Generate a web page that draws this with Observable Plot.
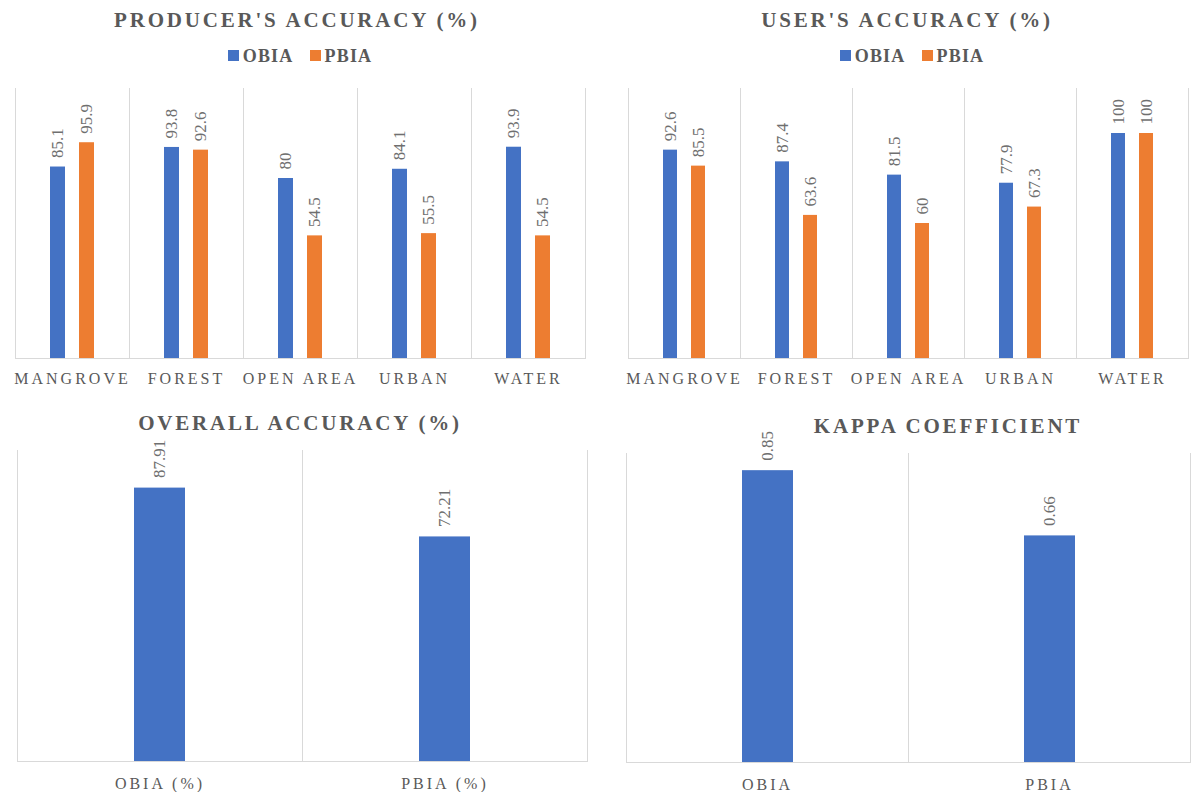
<!DOCTYPE html>
<html>
<head>
<meta charset="utf-8">
<script src="https://cdn.jsdelivr.net/npm/d3@7"></script>
<script src="https://cdn.jsdelivr.net/npm/@observablehq/plot@0.6"></script>
<style>
  html, body { margin: 0; padding: 0; background: #ffffff; overflow: hidden; }
  #page { position: relative; width: 1191px; height: 792px; }
  #page, #page * { font-family: "Liberation Serif", "Times New Roman", Times, Tinos, "Nimbus Roman", "Noto Serif", "DejaVu Serif", serif !important; }
  .title { position: absolute; width: 600px; text-align: center; font-weight: bold; font-size: 21px; letter-spacing: 2.8px; color: #595959; line-height: 24px; white-space: nowrap; }
  .legend { position: absolute; width: 600px; text-align: center; font-weight: bold; font-size: 18px; letter-spacing: 1.2px; color: #595959; line-height: 22px; white-space: nowrap; }
  .legend .sw { display: inline-block; width: 11px; height: 11px; margin-right: 4px; vertical-align: 1px; }
  .legend .item { margin: 0 8px; }
  .chart { position: absolute; }
  .chart svg [aria-label^="fx-axis"] text { letter-spacing: 3px; }
</style>
</head>
<body>
<div id="page"></div>
<script>
// ---- data ----
const classes = ["MANGROVE", "FOREST", "OPEN AREA", "URBAN", "WATER"];
const methods = ["OBIA", "PBIA"];
const methodColors = ["#4472C4", "#ED7D31"];
const producerOBIA = [85.1, 93.8, 80, 84.1, 93.9];
const producerPBIA = [95.9, 92.6, 54.5, 55.5, 54.5];
const userOBIA = [92.6, 87.4, 81.5, 77.9, 100];
const userPBIA = [85.5, 63.6, 60, 67.3, 100];
const overallLabels = ["OBIA (%)", "PBIA (%)"];
const overallValues = [87.91, 72.21];
const kappaLabels = ["OBIA", "PBIA"];
const kappaValues = [0.85, 0.66];

const page = document.getElementById("page");
const FONT = "'Liberation Serif', 'Times New Roman', serif";
const GRID = "#d9d9d9";

function addDiv(cls, html, left, top) {
  const d = document.createElement("div");
  d.className = cls;
  d.innerHTML = html;
  d.style.left = left + "px";
  d.style.top = top + "px";
  page.appendChild(d);
  return d;
}
function addChart(svg, left, top) {
  const d = document.createElement("div");
  d.className = "chart";
  d.style.left = left + "px";
  d.style.top = top + "px";
  d.appendChild(svg);
  page.appendChild(d);
}
function legendHTML() {
  return methods.map((m, i) =>
    `<span class="item"><span class="sw" style="background:${methodColors[i]}"></span>${m}</span>`).join("");
}

function grouped(obia, pbia, opts) {
  const rows = classes.flatMap((c, i) => [
    {cls: c, method: methods[0], v: obia[i]},
    {cls: c, method: methods[1], v: pbia[i]}
  ]);
  return Plot.plot({
    width: opts.width, height: 320,
    marginLeft: opts.marginLeft, marginRight: opts.marginRight, marginTop: 8, marginBottom: 42,
    style: {background: "transparent", fontFamily: FONT, fontSize: "16px", color: "#595959", overflow: "visible"},
    fx: {domain: classes, padding: 0, axis: "bottom", label: null, tickSize: 0, tickPadding: 14},
    x: {domain: methods, paddingInner: 0.483, paddingOuter: 1.2, axis: null},
    y: {domain: [0, 120], axis: null},
    color: {domain: methods, range: methodColors},
    marks: [
      Plot.frame({anchor: "left", stroke: GRID}),
      Plot.frame({anchor: "right", stroke: GRID}),
      Plot.ruleY([0], {stroke: GRID}),
      Plot.barY(rows, {fx: "cls", x: "method", y: "v", fill: "method"}),
      Plot.text(rows, {fx: "cls", x: "method", y: "v", text: d => String(d.v), rotate: -90,
        textAnchor: "start", dy: -9, fontSize: 17, fill: "#6f6f6f"})
    ]
  });
}

function single(labels, values, opts) {
  const rows = labels.map((l, i) => ({cat: l, v: values[i]}));
  return Plot.plot({
    width: opts.width, height: 372,
    marginLeft: opts.marginLeft, marginRight: opts.marginRight, marginTop: opts.marginTop, marginBottom: opts.marginBottom,
    style: {background: "transparent", fontFamily: FONT, fontSize: "16px", color: "#595959", overflow: "visible"},
    fx: {domain: labels, padding: 0, axis: "bottom", label: null, tickSize: 0, tickPadding: 16},
    x: {domain: ["bar"], paddingInner: 0, paddingOuter: opts.outer, axis: null},
    y: {domain: opts.domain, axis: null},
    marks: [
      Plot.frame({anchor: "left", stroke: GRID}),
      Plot.frame({anchor: "right", stroke: GRID}),
      Plot.ruleY([0], {stroke: GRID}),
      Plot.barY(rows, {fx: "cat", x: () => "bar", y: "v", fill: methodColors[0]}),
      Plot.text(rows, {fx: "cat", x: () => "bar", y: "v", text: d => String(d.v), rotate: -90,
        textAnchor: "start", dy: -10, fontSize: 17, fill: "#6f6f6f"})
    ]
  });
}

// Top-left: producer's accuracy
addDiv("title", "PRODUCER'S ACCURACY (%)", 297 - 300, 8);
addDiv("legend", legendHTML(), 300 - 300, 45);
addChart(grouped(producerOBIA, producerPBIA, {width: 595, marginLeft: 15, marginRight: 10}), 0, 80);

// Top-right: user's accuracy
addDiv("title", "USER'S ACCURACY (%)", 907 - 300, 8);
addDiv("legend", legendHTML(), 912 - 300, 45);
addChart(grouped(userOBIA, userPBIA, {width: 591, marginLeft: 26, marginRight: 1}), 600, 80);

// Bottom-left: overall accuracy
addChart(single(overallLabels, overallValues, {width: 595, marginLeft: 16, marginRight: 8, marginTop: 30, marginBottom: 31, outer: 2.245, domain: [0, 100]}), 0, 420);
addDiv("title", "OVERALL ACCURACY (%)", 300 - 300, 411);

// Bottom-right: kappa coefficient
addChart(single(kappaLabels, kappaValues, {width: 591, marginLeft: 25, marginRight: 1, marginTop: 33, marginBottom: 30, outer: 2.22, domain: [0, 0.9]}), 600, 420);
addDiv("title", "KAPPA COEFFICIENT", 948 - 300, 414);
</script>
</body>
</html>
